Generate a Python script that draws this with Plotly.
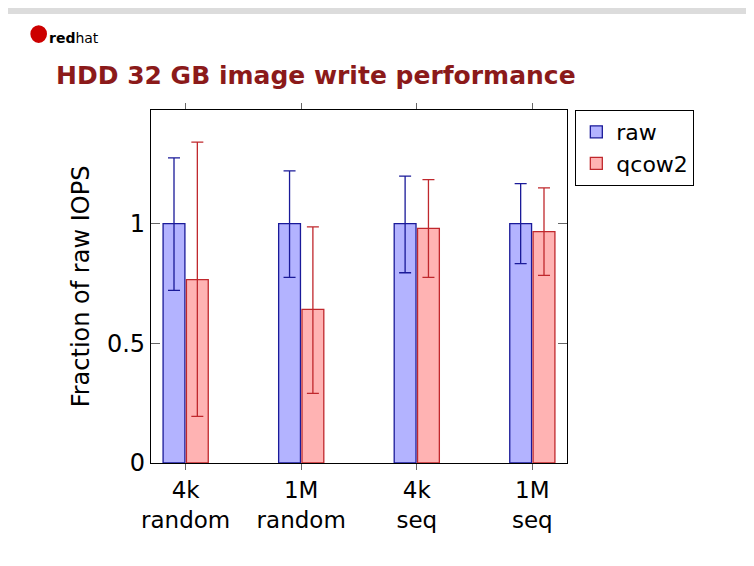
import plotly.graph_objects as go

categories = ["4k<br>random", "1M<br>random", "4k<br>seq", "1M<br>seq"]
raw = [1.0, 1.0, 1.0, 1.0]
raw_hi = [1.275, 1.221, 1.199, 1.167]
raw_lo = [0.721, 0.776, 0.795, 0.833]
qcow2 = [0.766, 0.642, 0.980, 0.967]
qcow2_hi = [1.341, 0.987, 1.184, 1.150]
qcow2_lo = [0.195, 0.291, 0.776, 0.784]

FONT = "DejaVu Sans"

def bar(name, vals, hi, lo, fill, edge):
    return go.Bar(
        x=categories, y=vals, name=name,
        marker=dict(color=fill, line=dict(color=edge, width=1.3)),
        error_y=dict(type="data", symmetric=False,
                     array=[h - v for h, v in zip(hi, vals)],
                     arrayminus=[v - l for v, l in zip(vals, lo)],
                     color=edge, thickness=1.3, width=6),
    )

fig = go.Figure()
fig.add_trace(bar("raw", raw, raw_hi, raw_lo, "#b3b3ff", "#1a1a99"))
fig.add_trace(bar("qcow2", qcow2, qcow2_hi, qcow2_lo, "#ffb3b3", "#c0282d"))

fig.update_layout(
    width=754, height=566,
    margin=dict(l=143, r=195, t=102, b=111),
    paper_bgcolor="white", plot_bgcolor="white",
    font=dict(family=FONT, size=23, color="black"),
    barmode="group", bargap=0.596, bargroupgap=0.065,
    showlegend=True,
    legend=dict(x=1.02, y=1.0, xanchor="left", yanchor="top",
                bordercolor="black", borderwidth=1, font=dict(size=22),
                tracegroupgap=0, itemwidth=30),
    shapes=[
        dict(type="rect", xref="paper", yref="paper", x0=-0.4, x1=1.5,
             y0=1.272, y1=1.5, fillcolor="#dcdcdc", line_width=0, layer="below"),
        dict(type="circle", xref="paper", yref="paper", x0=-0.29, x1=-0.25,
             y0=1.19, y1=1.24, fillcolor="#cc0000", line_width=0),
    ],
    annotations=[
        dict(text="<b>HDD 32 GB image write performance</b>", xref="paper", yref="paper",
             x=-0.232, y=1.05, xanchor="left", yanchor="bottom", showarrow=False,
             font=dict(size=25, color="#8b1a1a", family=FONT)),
        dict(text="<b>red</b>hat", xref="paper", yref="paper",
             x=-0.25, y=1.205, xanchor="left", yanchor="middle", showarrow=False,
             font=dict(size=14, color="black", family=FONT)),
    ],
)
fig.update_xaxes(range=[-0.30, 3.30], showline=True, linecolor="black", linewidth=1.3,
                 mirror="ticks", ticks="outside", ticklen=6, tickcolor="#666",
                 tickfont=dict(size=23))
fig.update_yaxes(range=[0, 1.475], tickvals=[0, 0.5, 1], ticktext=["0", "0.5", "1"],
                 showline=True, linecolor="black", linewidth=1.3, mirror="ticks",
                 ticks="inside", ticklen=9, tickcolor="#666", showgrid=False,
                 zeroline=False, title=dict(text="Fraction of raw IOPS", standoff=10,
                                            font=dict(size=24)),
                 tickfont=dict(size=24))

fig.write_html("out.html")
